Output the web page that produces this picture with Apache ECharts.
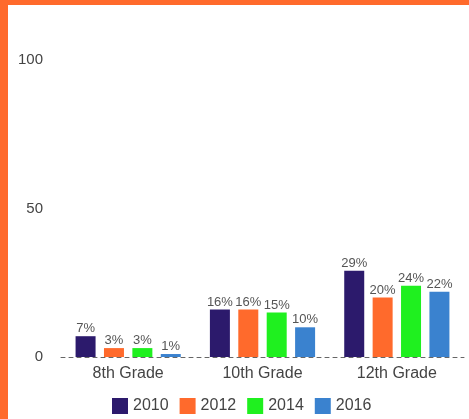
<!DOCTYPE html>
<html>
<head>
<meta charset="utf-8">
<script src="https://cdn.jsdelivr.net/npm/echarts@6/dist/echarts.min.js"></script>
<style>
  html, body { margin: 0; padding: 0; background: #fff; }
  .wrap { position: relative; width: 469px; height: 419px; overflow: hidden; }
  #chart { position: absolute; left: 0; top: 0; width: 469px; height: 419px; }
  .bl { position: absolute; left: 0; top: 0; width: 8px; height: 419px; background: #ff6a2c; }
  .bt { position: absolute; left: 0; top: 0; width: 469px; height: 5px; background: #ff6a2c; }
</style>
</head>
<body>
<div class="wrap">
  <div id="chart"></div>
  <div class="bl"></div>
  <div class="bt"></div>
</div>
<script>
const categories = ["8th Grade", "10th Grade", "12th Grade"];
const years = ["2010", "2012", "2014", "2016"];
const values2010 = [7, 16, 29];
const values2012 = [3, 16, 20];
const values2014 = [3, 15, 24];
const values2016 = [1, 10, 22];
const colors = ["#2c1a6c", "#ff6a2c", "#1ff01f", "#3a82cf"];

const allValues = [values2010, values2012, values2014, values2016];
const font = "Arial, Liberation Sans, sans-serif";

const chart = echarts.init(document.getElementById("chart"));

const series = years.map((y, i) => ({
  name: y,
  type: "bar",
  data: allValues[i],
  barWidth: 20,
  barGap: "42%",
  itemStyle: { color: colors[i] },
  label: {
    show: true,
    position: "top",
    distance: 1,
    formatter: "{c}%",
    color: "#555",
    fontSize: 13,
    fontFamily: font
  }
}));

chart.setOption({
  animation: false,
  color: colors,
  grid: { left: 61, right: 5, top: 60, bottom: 62 },
  legend: {
    data: years,
    left: 107,
    bottom: 0,
    icon: "rect",
    itemWidth: 16,
    itemHeight: 16,
    itemGap: 11,
    textStyle: { color: "#444", fontSize: 16, fontFamily: font }
  },
  xAxis: {
    type: "category",
    data: categories,
    axisTick: { show: false },
    axisLine: { lineStyle: { color: "#666", type: [4, 4], width: 1 } },
    axisLabel: { color: "#444", fontSize: 16, margin: 9, fontFamily: font }
  },
  yAxis: {
    type: "value",
    min: 0,
    max: 100,
    interval: 50,
    axisLine: { show: false },
    axisTick: { show: false },
    splitLine: { show: false },
    axisLabel: { color: "#444", fontSize: 15, margin: 18, fontFamily: font }
  },
  series: series
});
</script>
</body>
</html>
